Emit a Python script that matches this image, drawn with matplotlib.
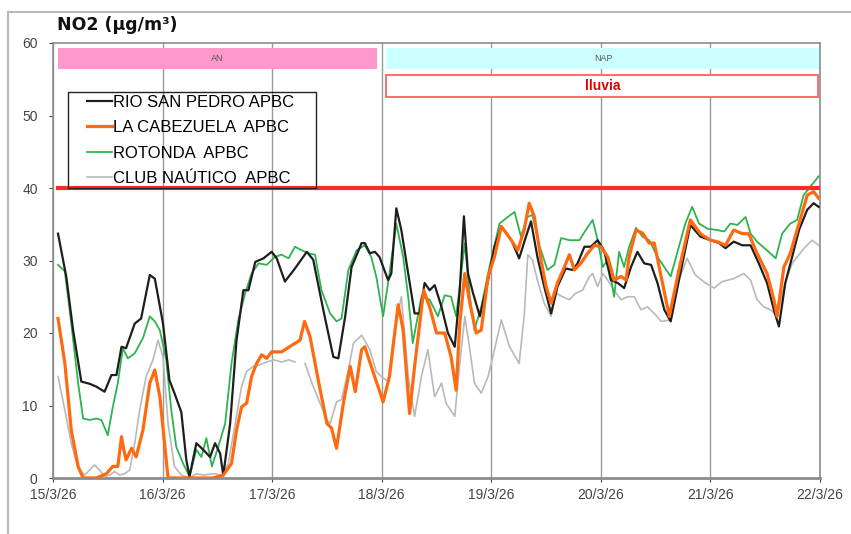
import numpy as np
import matplotlib
matplotlib.use('Agg')
import matplotlib.pyplot as plt
from matplotlib.patches import Rectangle
from matplotlib.lines import Line2D

# hours since 15/3/26 00:00 and NO2 values (ug/m3)
rio_h = [1.1, 2.9, 4.4, 6.2, 8.0, 9.5, 11.3, 12.8, 13.9, 15.0, 16.0, 17.9, 19.3, 21.2, 22.3, 24.1,
         25.5, 26.6, 28.1, 29.2, 29.9, 31.4, 32.9, 34.4, 35.5, 36.6, 37.3, 38.8, 40.2, 41.7, 42.8,
         44.3, 46.1, 47.9, 49.0, 50.8, 53.0, 55.6, 57.0, 59.2, 61.4, 62.5, 64.0, 65.4, 67.6, 68.3,
         69.4, 70.5, 71.5, 73.4, 74.1, 75.2, 76.3, 77.8, 79.2, 80.3, 81.4, 82.5, 83.6, 85.1, 86.5,
         88.0, 89.1, 90.0, 90.9, 92.0, 93.5, 95.3, 96.7, 98.2, 100.4, 102.1, 103.6, 104.7, 106.1,
         107.6, 109.1, 110.5, 112.3, 113.8, 114.9, 116.4, 117.8, 119.3, 120.7, 122.2, 123.7, 125.1,
         126.6, 128.0, 129.5, 131.0, 132.4, 133.9, 135.3, 137.1, 139.6, 141.8, 144.0, 145.9, 147.3,
         149.1, 151.0, 152.8, 154.6, 156.4, 157.9, 159.0, 160.4, 161.9, 163.4, 165.2, 166.6, 167.7]
rio_v = [33.7, 27.8, 20.4, 13.3, 13.0, 12.6, 11.9, 14.2, 14.2, 18.1, 17.9, 21.3, 22.0, 28.0, 27.5, 21.3,
         13.5, 11.7, 9.1, 2.5, 0.2, 4.8, 3.9, 2.9, 4.8, 3.4, 0.4, 7.5, 19.0, 25.9, 25.9,
         29.8, 30.3, 31.2, 30.3, 27.1, 28.9, 31.2, 30.1, 23.2, 16.7, 16.5, 22.3, 29.1, 32.4, 32.4,
         31.0, 31.2, 30.5, 27.3, 28.2, 37.2, 34.2, 28.2, 22.7, 22.7, 26.9, 25.9, 26.6, 23.6, 20.0,
         18.1, 25.9, 36.1, 28.2, 25.5, 22.3, 27.3, 31.9, 34.7, 32.8, 30.3, 33.3, 35.4, 30.5,
         26.4, 22.7, 26.4, 28.9, 28.7, 29.6, 31.9, 31.9, 32.8, 31.4, 27.3, 26.9, 26.2,
         29.1, 31.2, 29.6, 29.4, 26.9, 23.2, 21.6, 27.3, 34.9, 33.3, 32.8, 32.4, 31.7,
         32.6, 32.1, 32.1, 29.6, 26.9, 23.2, 20.9, 26.9, 30.5, 34.2, 37.0, 37.9, 37.4]

cab_h = [1.1, 2.6, 4.0, 5.5, 6.6, 9.5, 11.7, 13.1, 14.2, 15.0, 15.5, 16.0, 17.2, 18.2, 19.7, 21.2,
         22.3, 23.4, 25.2, 35.0, 37.3, 39.1, 40.2, 41.3, 42.4, 43.5, 44.6, 45.7, 46.8, 47.9, 50.1,
         52.3, 54.1, 55.1, 56.3, 58.1, 60.0, 61.0, 62.1, 63.6, 65.1, 66.2, 67.6, 68.3, 69.7, 71.2,
         72.3, 73.7, 75.6, 76.7, 78.1, 79.2, 81.2, 82.5, 84.0, 85.8, 87.2, 88.3, 89.1, 90.2, 91.3,
         92.7, 93.8, 95.3, 96.7, 98.2, 100.4, 101.8, 103.2, 104.3, 105.4, 106.9, 108.0, 109.1,
         110.5, 112.0, 113.1, 114.2, 115.6, 117.1, 118.6, 120.0, 121.5, 122.9, 124.4, 125.5, 126.2,
         127.7, 129.1, 130.6, 131.7, 133.2, 135.0, 137.1, 139.6, 141.8, 144.0, 145.5, 147.3, 149.1,
         151.0, 152.4, 154.2, 156.4, 157.9, 158.6, 160.1, 161.5, 163.4, 165.2, 166.6, 167.7]
cab_v = [22.0, 15.8, 6.6, 1.6, 0.0, 0.0, 0.6, 1.6, 1.6, 5.7, 3.9, 2.5, 4.1, 2.9, 6.6, 13.1,
         14.9, 11.2, 0.0, 0.0, 0.4, 2.0, 6.6, 9.8, 10.3, 14.0, 15.8, 17.0, 16.5, 17.4, 17.4,
         18.3, 19.0, 21.6, 19.5, 13.5, 7.5, 6.9, 4.1, 10.3, 15.4, 11.9, 17.7, 18.1, 15.4, 12.6,
         10.5, 14.0, 23.9, 20.4, 8.9, 15.4, 25.9, 23.6, 20.0, 20.0, 16.7, 12.1, 21.3, 28.2, 24.1,
         20.0, 20.4, 27.8, 30.5, 34.7, 32.8, 31.4, 34.2, 37.9, 36.1, 30.1, 26.4, 24.1,
         26.9, 29.1, 30.8, 28.7, 29.6, 31.0, 32.1, 31.9, 30.5, 27.3, 27.8, 27.3, 30.5,
         34.2, 33.8, 32.4, 32.4, 27.8, 22.3, 28.7, 35.6, 33.7, 32.8, 32.6, 32.1, 34.2,
         33.7, 33.7, 31.0, 28.2, 24.6, 22.3, 29.1, 31.0, 35.1, 39.0, 39.5, 38.6]

rot_h = [1.1, 2.6, 4.0, 5.5, 6.6, 8.0, 9.5, 10.6, 12.0, 13.1, 14.2, 15.3, 16.4, 17.9, 19.7, 21.2,
         22.3, 23.4, 24.8, 25.9, 27.0, 28.5, 29.9, 31.4, 32.5, 33.6, 34.8, 36.2, 37.7, 39.1, 40.6,
         42.1, 43.5, 45.0, 46.8, 48.6, 50.1, 51.6, 53.0, 54.5, 55.9, 57.4, 58.8, 60.7, 62.1, 63.2,
         64.7, 66.5, 68.3, 69.7, 70.8, 72.3, 73.7, 75.2, 76.7, 77.8, 78.8, 80.7, 82.5, 84.3, 85.8,
         87.2, 88.3, 89.4, 90.2, 91.3, 92.3, 93.8, 95.6, 97.8, 99.6, 101.1, 102.5, 103.9, 105.0,
         106.5, 108.3, 109.8, 111.3, 113.1, 115.3, 116.7, 118.2, 119.3, 120.4, 121.5, 122.9, 124.0,
         125.1, 126.2, 127.7, 129.1, 130.6, 132.4, 133.9, 135.3, 137.1, 138.5, 140.0, 141.5, 143.3,
         145.5, 147.0, 148.4, 149.9, 151.7, 152.8, 154.2, 156.4, 158.3, 159.7, 161.5, 163.0, 164.4,
         165.9, 167.7]
rot_v = [29.4, 28.5, 21.3, 13.1, 8.2, 8.0, 8.2, 8.0, 5.9, 9.8, 13.1, 17.9, 16.5, 17.2, 19.3, 22.3,
         21.6, 20.4, 16.3, 9.4, 4.3, 2.0, 0.2, 3.9, 2.9, 5.5, 1.6, 4.3, 7.5, 15.8, 21.8,
         25.5, 28.2, 29.6, 29.4, 30.5, 30.8, 30.3, 31.9, 31.4, 31.0, 30.8, 25.9, 22.7, 21.6, 22.0,
         28.7, 31.4, 32.1, 30.5, 27.8, 22.3, 28.2, 35.1, 30.5, 25.0, 18.6, 25.0, 24.6, 22.3, 25.2,
         25.0, 22.3, 28.2, 32.4, 25.0, 20.4, 23.6, 29.1, 35.1, 36.0, 36.7, 33.3, 36.0, 36.3,
         32.1, 28.7, 29.4, 33.1, 32.8, 32.8, 34.2, 35.6, 32.8, 29.1, 30.1, 25.0, 31.2,
         29.1, 31.9, 34.5, 33.3, 32.8, 30.5, 29.1, 27.8, 31.9, 35.1, 37.4, 35.1, 34.4,
         34.2, 34.0, 35.1, 34.9, 36.0, 33.7, 32.6, 31.4, 30.3, 33.7, 35.1, 35.6, 39.0,
         40.2, 41.6]

club_h = [1.1, 2.6, 4.0, 5.5, 6.9, 8.0, 9.1, 10.2, 11.3, 12.4, 13.5, 14.6, 15.7, 16.8, 17.9, 19.0,
          20.4, 21.9, 23.0, 24.1, 25.2, 26.6, 28.1, 29.9, 31.4, 32.9, 35.5, 36.9, 38.4, 39.9, 41.3,
          42.4, 43.9, 45.3, 46.8, 48.3, 50.1, 51.6, 53.0, 54.0, 55.2, 56.7, 58.5, 60.0, 60.7, 62.1,
          63.2, 64.7, 65.8, 67.6, 69.4, 70.8, 71.9, 73.4, 74.8, 76.3, 77.8, 79.2, 80.7, 82.1, 83.6,
          85.1, 86.1, 88.0, 89.1, 90.2, 91.3, 92.3, 93.8, 95.3, 96.7, 98.2, 100.0, 102.1, 103.2,
          104.0, 105.0, 106.1, 107.6, 109.1, 110.2, 111.6, 113.1, 114.5, 116.0, 117.5, 118.2, 119.3,
          120.4, 121.5, 122.9, 124.4, 125.9, 127.3, 128.8, 130.2, 131.7, 133.2, 135.3, 137.1, 138.9,
          140.7, 142.9, 144.8, 146.6, 149.1, 151.3, 152.8, 154.2, 155.7, 157.2, 158.6, 160.1, 161.9,
          163.4, 164.8, 166.3, 167.7]
club_v = [14.0, 9.4, 4.8, 1.3, 0.4, 1.1, 1.8, 1.1, 0.2, 0.4, 0.9, 0.4, 0.6, 1.1, 4.8, 9.4,
          14.0, 16.3, 19.0, 16.7, 7.5, 1.6, 0.4, 0.0, 0.6, 0.4, 0.6, 0.3, 2.0, 7.5, 12.6,
          14.7, 15.4, 15.6, 16.0, 16.3, 16.0, 16.3, 16.0, np.nan, 15.8, 13.1, 10.3, 8.0, 7.5, 10.5,
          10.8, 14.9, 18.6, 19.7, 17.7, 14.7, 14.0, 13.3, 20.4, 25.0, 14.0, 8.5, 14.0, 17.7, 11.2,
          13.1, 10.3, 8.5, 15.8, 22.3, 17.7, 13.1, 11.7, 14.0, 17.7, 21.8, 18.1, 15.8, 22.3,
          30.8, 30.1, 27.3, 24.1, 22.3, 25.5, 25.0, 24.6, 25.5, 25.9, 27.8, 28.2, 26.4,
          28.2, 27.3, 25.9, 24.6, 25.0, 25.0, 23.2, 23.6, 22.7, 21.6, 21.8, 27.3, 30.3,
          28.0, 26.9, 26.2, 27.1, 27.5, 28.2, 27.3, 24.6, 23.6, 23.2, 22.3, 26.4, 29.6,
          30.8, 31.9, 32.8, 32.1]

day_labels = ['15/3/26', '16/3/26', '17/3/26', '18/3/26', '19/3/26', '20/3/26', '21/3/26', '22/3/26']
limit_value = 40

# periods shown at the top (hours)
an_period = (1, 71)
nap_period = (73, 168)
lluvia_period = (73, 168)

font = 'Liberation Sans'
plt.rcParams['font.family'] = [font, 'DejaVu Sans']

W, H = 851, 534
fig = plt.figure(figsize=(W / 100, H / 100), dpi=100)
ax = fig.add_axes([53 / W, 1 - 478 / H, 767 / W, 435 / H])

# chart area border (only top and left visible)
fig.add_artist(Line2D([8 / W, 1.0], [1 - 12 / H, 1 - 12 / H], color='#b8b8b8', lw=1.5))
fig.add_artist(Line2D([8 / W, 8 / W], [0.0, 1 - 12 / H], color='#b8b8b8', lw=1.5))

hd = 24.0
ax.plot(np.array(club_h) / hd, club_v, color='#b9b9b9', lw=1.2, zorder=3, label='CLUB NAÚTICO  APBC')
ax.plot(np.array(rot_h) / hd, rot_v, color='#2eb34f', lw=1.3, zorder=4, label='ROTONDA  APBC')
ax.plot(np.array(rio_h) / hd, rio_v, color='#1e1e1e', lw=1.6, zorder=5, label='RIO SAN PEDRO APBC')
ax.plot(np.array(cab_h) / hd, cab_v, color='#ff6a10', lw=2.3, zorder=6, label='LA CABEZUELA  APBC')

ax.plot([1 / hd, 7], [limit_value, limit_value], color='#ff2a2a', lw=3, zorder=7)

# period bars
ax.add_patch(Rectangle((an_period[0] / hd, 56.4), (an_period[1] - an_period[0]) / hd, 2.9,
                       facecolor='#ff99cc', edgecolor='none', zorder=2))
ax.text((an_period[0] + an_period[1]) / 2 / hd, 57.85, 'AN', ha='center', va='center',
        fontsize=6.5, color='#555555', zorder=8)
ax.add_patch(Rectangle((nap_period[0] / hd, 56.4), (nap_period[1] - nap_period[0]) / hd, 2.9,
                       facecolor='#ccffff', edgecolor='none', zorder=2))
ax.text((nap_period[0] + nap_period[1]) / 2 / hd, 57.85, 'NAP', ha='center', va='center',
        fontsize=6.5, color='#555555', zorder=8)
ax.add_patch(Rectangle((lluvia_period[0] / hd, 52.6), (lluvia_period[1] - lluvia_period[0]) / hd - 0.02, 3.0,
                       facecolor='white', edgecolor='#ff6060', lw=1.3, zorder=2))
ax.text((lluvia_period[0] + lluvia_period[1]) / 2 / hd, 54.1, 'lluvia', ha='center', va='center',
        fontsize=10, fontweight='bold', color='#e00000', zorder=8)

ax.set_xlim(0, 7)
ax.set_ylim(0, 60)
ax.set_xticks(range(8))
ax.set_xticklabels(day_labels)
ax.set_yticks(range(0, 61, 10))
ax.tick_params(axis='both', labelsize=10, colors='#444444', length=3, width=0.8)
ax.tick_params(axis='y', pad=8)
ax.tick_params(axis='x', pad=4)
ax.grid(axis='x', color='#9a9a9a', lw=1.0, zorder=1)
ax.set_axisbelow(True)
for s in ax.spines.values():
    s.set_color('#8c8c8c')
    s.set_linewidth(1.2)
ax.spines['bottom'].set_linewidth(2)

ax.text(4 / 767, 1.02, 'NO2 (µg/m³)', transform=ax.transAxes, fontsize=12.5, fontweight='bold',
        family='DejaVu Sans', ha='left', va='bottom', color='#111111')

# legend: transparent box drawn separately, entries without frame
ax.add_patch(Rectangle(((68 - 53) / 767, 1 - (188 - 43) / 435), 248 / 767, 96 / 435,
                       transform=ax.transAxes, facecolor='none', edgecolor='#222222',
                       lw=1.0, zorder=9))
handles, labels = ax.get_legend_handles_labels()
order = [2, 3, 1, 0]
leg = ax.legend([handles[i] for i in order], [labels[i] for i in order], loc='upper left',
                bbox_to_anchor=((74 - 53) / 767, 1 - (95 - 43) / 435), fontsize=12,
                frameon=False, handlelength=2.28, handletextpad=0.05, borderpad=0,
                labelspacing=0.62, borderaxespad=0)
leg.set_zorder(9)
fig.canvas.draw()
for ln in leg.get_lines():
    xd = ln.get_xdata()
    ln.set_xdata([xd[0] + 0.34 * (xd[-1] - xd[0]), xd[-1]])
    ln.set_ydata([ln.get_ydata()[0]] * 2)

fig.savefig('out.png', dpi=100)
